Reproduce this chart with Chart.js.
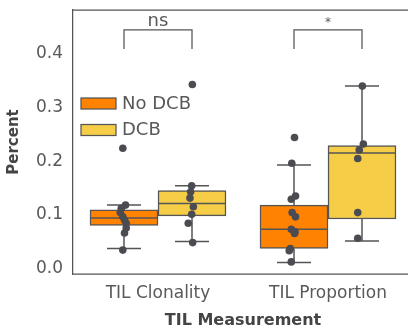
<!DOCTYPE html>
<html>
<head>
<meta charset="utf-8">
<script src="https://cdn.jsdelivr.net/npm/chart.js@4.4.1/dist/chart.umd.min.js"></script>
<style>
html, body { margin: 0; padding: 0; background: #fff; overflow: hidden; width: 408px; height: 330px; }
#c { display: block; }
</style>
</head>
<body>
<canvas id="c" width="420" height="330"></canvas>
<script>
const categories = ['TIL Clonality', 'TIL Proportion'];
const groups = ['No DCB', 'DCB'];
const groupColors = ['#ff8200', '#f5cd47'];
const yTicks = [0, 0.1, 0.2, 0.3, 0.4];

// per category: [whisker low, q1, median, q3, whisker high]
const noDcbBox = [[0.037, 0.080, 0.094, 0.109, 0.118], [0.011, 0.037, 0.073, 0.118, 0.193]];
const dcbBox = [[0.050, 0.098, 0.121, 0.145, 0.154], [0.051, 0.092, 0.215, 0.229, 0.340]];

const noDcbPoints = [
  [0.224, 0.118, 0.112, 0.104, 0.096, 0.090, 0.084, 0.075, 0.066, 0.034],
  [0.244, 0.196, 0.135, 0.129, 0.104, 0.096, 0.073, 0.068, 0.065, 0.037, 0.033, 0.012]
];
const noDcbJitter = [
  [-0.007, 0.009, -0.016, -0.022, -0.007, 0.003, 0.013, 0.013, 0.003, -0.007],
  [0.003, -0.013, 0.009, -0.016, -0.011, 0.009, -0.016, 0.006, 0.003, -0.022, -0.028, -0.016]
];
const dcbPoints = [
  [0.343, 0.154, 0.143, 0.131, 0.115, 0.101, 0.084, 0.048],
  [0.340, 0.232, 0.221, 0.205, 0.104, 0.056]
];
const dcbJitter = [
  [0.002, -0.002, -0.008, -0.012, 0.008, -0.002, -0.022, 0.004],
  [0.002, 0.008, -0.016, -0.025, -0.025, -0.025]
];

const sigLabels = ['ns', '*'];
const bracketTop = 0.445;
const bracketBottom = 0.409;

const boxStats = [noDcbBox, dcbBox];
const groupPoints = [noDcbPoints, dcbPoints];
const groupJitter = [noDcbJitter, dcbJitter];
const groupOffset = [-0.2, 0.2];   // box centres inside each category (seaborn width 0.8)
const edge = '#555555';
const textCol = '#595959';
const FONT = "'DejaVu Sans', sans-serif";

function pointData(points, jitter, offset) {
  const out = [];
  points.forEach((vals, i) => vals.forEach((v, k) => out.push({ x: i + offset + jitter[i][k], y: v })));
  return out;
}

const boxExtras = {
  id: 'boxExtras',
  afterDatasetDraw(chart, args) {
    const meta = args.meta;
    if (meta.type !== 'bar') return;
    const stats = boxStats[args.index];
    const y = chart.scales.y;
    const ctx = chart.ctx;
    ctx.save();
    ctx.strokeStyle = edge;
    ctx.lineWidth = 1.5;
    meta.data.forEach((bar, i) => {
      const [lo, q1, med, q3, hi] = stats[i];
      const x = bar.x, half = bar.width / 2;
      ctx.beginPath();
      ctx.moveTo(x, y.getPixelForValue(q3)); ctx.lineTo(x, y.getPixelForValue(hi));
      ctx.moveTo(x, y.getPixelForValue(q1)); ctx.lineTo(x, y.getPixelForValue(lo));
      ctx.moveTo(x - half / 2, y.getPixelForValue(hi)); ctx.lineTo(x + half / 2, y.getPixelForValue(hi));
      ctx.moveTo(x - half / 2, y.getPixelForValue(lo)); ctx.lineTo(x + half / 2, y.getPixelForValue(lo));
      ctx.moveTo(x - half, y.getPixelForValue(med)); ctx.lineTo(x + half, y.getPixelForValue(med));
      ctx.stroke();
    });
    ctx.restore();
  },
  afterDraw(chart) {
    const ctx = chart.ctx;
    const a = chart.chartArea;
    const y = chart.scales.y;
    ctx.save();
    // top and bottom spines (left one comes from the y axis)
    ctx.strokeStyle = edge;
    ctx.lineWidth = 1.25;
    ctx.beginPath();
    ctx.moveTo(a.left, a.top); ctx.lineTo(a.right, a.top);
    ctx.moveTo(a.left, a.bottom); ctx.lineTo(a.right, a.bottom);
    ctx.stroke();

    // significance brackets
    const m0 = chart.getDatasetMeta(0), m1 = chart.getDatasetMeta(1);
    const yt = y.getPixelForValue(bracketTop), yb = y.getPixelForValue(bracketBottom);
    ctx.fillStyle = textCol;
    ctx.textAlign = 'center';
    ctx.textBaseline = 'alphabetic';
    sigLabels.forEach((lab, i) => {
      const x1 = m0.data[i].x, x2 = m1.data[i].x;
      ctx.beginPath();
      ctx.moveTo(x1, yb); ctx.lineTo(x1, yt); ctx.lineTo(x2, yt); ctx.lineTo(x2, yb);
      ctx.stroke();
      ctx.font = lab === '*' ? "12px " + FONT : "18px " + FONT;
      ctx.fillText(lab, (x1 + x2) / 2, yt - 4);
    });

    // legend
    ctx.font = "18px " + FONT;
    ctx.textAlign = 'left';
    ctx.textBaseline = 'middle';
    groups.forEach((g, i) => {
      const py = 98 + i * 26.5;
      ctx.fillStyle = groupColors[i];
      ctx.fillRect(81, py, 35, 11);
      ctx.strokeStyle = edge;
      ctx.lineWidth = 1.25;
      ctx.strokeRect(81, py, 35, 11);
      ctx.fillStyle = textCol;
      ctx.fillText(g, 122, py + 6);
    });
    ctx.restore();
  }
};

new Chart(document.getElementById('c'), {
  type: 'bar',
  data: {
    datasets: [
      ...groups.map((g, gi) => ({
        type: 'bar',
        label: g,
        data: boxStats[gi].map((s, i) => ({ x: i + groupOffset[gi], y: [s[1], s[3]] })),
        backgroundColor: groupColors[gi],
        borderColor: edge,
        borderWidth: 1.5,
        borderSkipped: false,
        grouped: false,
        categoryPercentage: 1.0,
        barPercentage: 1.0,
        xAxisID: 'xb',
        order: 1
      })),
      ...groups.map((g, gi) => ({
        type: 'scatter',
        label: g + ' points',
        data: pointData(groupPoints[gi], groupJitter[gi], groupOffset[gi]),
        xAxisID: 'x',
        backgroundColor: '#4b4b52',
        borderWidth: 0,
        pointRadius: 3.8,
        order: 0
      }))
    ]
  },
  options: {
    responsive: false,
    animation: false,
    layout: { autoPadding: false, padding: { top: 10, right: 7, left: 0, bottom: 0 } },
    plugins: { legend: { display: false }, tooltip: { enabled: false } },
    scales: {
      x: {
        type: 'linear',
        min: -0.5,
        max: 1.5,
        offset: false,
        grid: { display: false, drawTicks: false },
        border: { display: false },
        afterBuildTicks: s => { s.ticks = categories.map((c, i) => ({ value: i })); },
        ticks: { color: textCol, font: { family: FONT, size: 17 }, padding: 9, autoSkip: false, maxRotation: 0,
                 callback: (v, i) => categories[i] },
        title: { display: true, text: 'TIL Measurement', color: '#444', font: { family: FONT, size: 16, weight: 'bold' }, padding: 0 },
        afterFit: s => { s.height = 56; s.paddingLeft = 0; s.paddingRight = 0; }
      },
      xb: {
        type: 'linear', display: false, min: -0.5, max: 1.5, offset: false,
        afterBuildTicks: s => { s.ticks = categories.map((c, i) => ({ value: i })); }
      },
      y: {
        type: 'linear',
        min: -0.0106,
        max: 0.482,
        grid: { display: false, drawTicks: false },
        border: { display: true, color: edge, width: 1.25 },
        afterBuildTicks: s => { s.ticks = yTicks.map(v => ({ value: v })); },
        ticks: { color: textCol, font: { family: FONT, size: 17 }, padding: 10, callback: v => v.toFixed(1) },
        title: { display: true, text: 'Percent', color: '#444', font: { family: FONT, size: 15, weight: 'bold' }, padding: { top: 5, bottom: 0 } },
        afterFit: s => { s.width = 73; s.paddingTop = 0; s.paddingBottom = 0; }
      }
    }
  },
  plugins: [boxExtras]
});
</script>
</body>
</html>
